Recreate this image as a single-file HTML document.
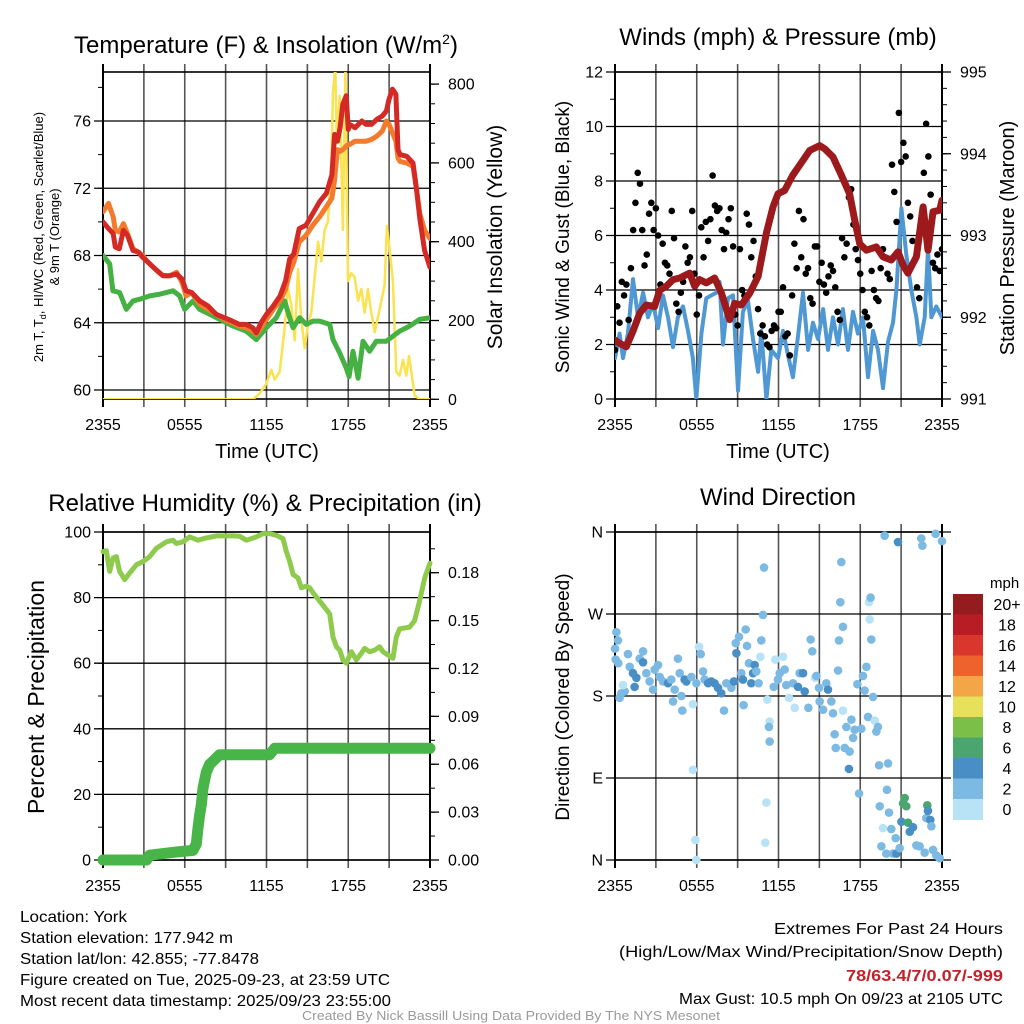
<!DOCTYPE html>
<html><head><meta charset="utf-8"><title>York Mesonet Meteogram</title>
<style>
html,body{margin:0;padding:0;background:#fff;}
svg{display:block;font-family:"Liberation Sans",Arial,sans-serif;}
</style></head>
<body>
<svg id="chart" xmlns="http://www.w3.org/2000/svg" width="1024" height="1024" viewBox="0 0 1024 1024">
<defs>
<clipPath id="c1"><rect x="103" y="72" width="327" height="327"/></clipPath>
<clipPath id="c2"><rect x="615" y="72" width="327" height="327"/></clipPath>
<clipPath id="c3"><rect x="97" y="526" width="339" height="340"/></clipPath>
<clipPath id="c4"><rect x="609" y="526" width="339" height="340"/></clipPath>
</defs>
<text x="266" y="53" font-size="24" text-anchor="middle">Temperature (F) &amp; Insolation (W/m<tspan dy="-9" font-size="14">2</tspan><tspan dy="9">)</tspan></text>
<text x="778" y="45" font-size="24" text-anchor="middle">Winds (mph) &amp; Pressure (mb)</text>
<text x="265" y="511" font-size="24" text-anchor="middle">Relative Humidity (%) &amp; Precipitation (in)</text>
<text x="778" y="505" font-size="24" text-anchor="middle">Wind Direction</text>

<text transform="translate(43,237) rotate(-90)" font-size="13" text-anchor="middle">2m T, T<tspan dy="3" font-size="9">d</tspan><tspan dy="-3">, HI/WC (Red, Green, Scarlet/Blue)</tspan></text>
<text transform="translate(59,237) rotate(-90)" font-size="13" text-anchor="middle">&amp; 9m T (Orange)</text>
<text transform="translate(502,237) rotate(-90)" font-size="21" text-anchor="middle">Solar Insolation (Yellow)</text>
<text x="267" y="458" font-size="20" text-anchor="middle">Time (UTC)</text>

<text transform="translate(569,237) rotate(-90)" font-size="19" text-anchor="middle">Sonic Wind &amp; Gust (Blue, Black)</text>
<text transform="translate(1014,238) rotate(-90)" font-size="20" text-anchor="middle">Station Pressure (Maroon)</text>
<text x="778" y="458" font-size="20" text-anchor="middle">Time (UTC)</text>

<text transform="translate(44,697) rotate(-90)" font-size="23" text-anchor="middle">Percent &amp; Precipitation</text>
<text transform="translate(569,697) rotate(-90)" font-size="19" text-anchor="middle">Direction (Colored By Speed)</text>

<g id="footer" font-size="16">
<text x="20" y="922" textLength="107" lengthAdjust="spacingAndGlyphs">Location: York</text>
<text x="20" y="943" textLength="213" lengthAdjust="spacingAndGlyphs">Station elevation: 177.942 m</text>
<text x="20" y="964" textLength="239" lengthAdjust="spacingAndGlyphs">Station lat/lon: 42.855; -77.8478</text>
<text x="20" y="985" textLength="370" lengthAdjust="spacingAndGlyphs">Figure created on Tue, 2025-09-23, at 23:59 UTC</text>
<text x="20" y="1006" textLength="371" lengthAdjust="spacingAndGlyphs">Most recent data timestamp: 2025/09/23 23:55:00</text>
<text x="774" y="934" textLength="229" lengthAdjust="spacingAndGlyphs">Extremes For Past 24 Hours</text>
<text x="619" y="957" textLength="384" lengthAdjust="spacingAndGlyphs">(High/Low/Max Wind/Precipitation/Snow Depth)</text>
<text x="846" y="981" textLength="157" lengthAdjust="spacingAndGlyphs" fill="#c8202a" font-weight="bold">78/63.4/7/0.07/-999</text>
<text x="679" y="1004" textLength="324" lengthAdjust="spacingAndGlyphs">Max Gust: 10.5 mph On 09/23 at 2105 UTC</text>
<text x="302" y="1020" font-size="13" fill="#9a9a9a" textLength="418" lengthAdjust="spacingAndGlyphs">Created By Nick Bassill Using Data Provided By The NYS Mesonet</text>
</g>
</svg>
<script>
// ---------- Data ----------
const timeTickLabels = ["2355","0555","1155","1755","2355"];
const tempTicks = [60,64,68,72,76];
const solarTicks = [0,200,400,600,800];
const windTicks = [0,2,4,6,8,10,12];
const pressTicks = [991,992,993,994,995];
const rhTicks = [0,20,40,60,80,100];
const precipTicks = [0,0.03,0.06,0.09,0.12,0.15,0.18];
const precipTickLabels = ["0.00","0.03","0.06","0.09","0.12","0.15","0.18"];
const dirTicks = [0,90,180,270,360];
const dirTickLabels = ["N","E","S","W","N"];
const speedBins = [0,2,4,6,8,10,12,14,16,18,20];
const speedBinLabels = ["0","2","4","6","8","10","12","14","16","18","20+"];
const speedColors = ["#b8e2f6","#7cb9e3","#4a8ec6","#4aa56f","#7cbf48","#e6e05a","#f4a547","#ee622d","#d9372b","#b81d25","#951b1e"];

const tempTimes = [0,0.4,0.75,0.9,1.2,1.5,1.8,2.2,2.6,2.9,3.3,3.7,4.1,4.4,4.9,5.4,5.8,6.1,6.5,7.1,7.7,8.3,8.9,9.5,10.0,10.5,11.0,11.25,11.6,12.0,12.5,13.0,13.4,13.7,14.0,14.4,14.9,15.4,15.9,16.4,16.8,17.0,17.2,17.4,17.6,17.85,18.0,18.1,18.5,19.0,19.3,19.7,20.1,20.5,20.8,21.0,21.25,21.5,21.65,21.8,22.3,22.75,23.0,23.25,23.6,24];
const tempRed = [70.0,69.6,69.3,68.5,68.4,69.5,69.2,68.3,68.2,67.9,67.6,67.3,67.0,66.8,66.8,66.9,66.6,65.9,65.8,65.3,65.0,64.5,64.3,64.1,63.9,63.9,63.7,63.4,64.0,64.5,65.0,65.6,66.5,67.8,68.1,69.6,69.8,70.5,71.2,71.7,72.8,75.2,74.8,75.6,77.0,77.5,75.5,75.8,75.6,76.0,75.8,75.8,76.1,76.3,76.6,77.3,77.9,77.6,74.3,74.0,73.9,73.5,72.0,70.2,68.3,67.3];
const tempOrange = [70.6,71.1,70.3,69.5,69.4,69.9,69.3,68.4,68.2,68.0,67.6,67.3,67.0,66.8,66.8,67.0,66.4,65.6,65.8,65.1,64.8,64.5,64.2,64.0,63.8,63.7,63.5,63.3,63.7,64.2,64.8,65.3,66.0,67.0,67.6,68.8,69.2,69.8,70.3,70.9,71.4,72.5,74.3,74.2,74.3,74.5,74.6,74.6,74.8,74.8,74.8,74.9,75.1,75.4,76.0,75.8,75.3,74.8,73.8,73.6,73.5,73.3,72.0,70.5,69.5,69.0];
const dewTimes = [0,0.49,0.73,1.22,1.71,2.2,2.69,3.43,4.16,5.14,5.63,5.99,6.61,7.09,8.32,9.54,10.52,11.25,11.99,12.72,13.33,13.7,13.95,14.43,14.92,15.41,15.9,16.64,16.88,17.37,17.86,18.06,18.35,18.72,19.08,19.57,20.06,20.8,21.28,21.77,22.5,23.24,24];
const dewValues = [68.0,67.5,65.9,65.8,64.8,65.3,65.4,65.6,65.7,65.9,65.6,64.8,65.3,64.8,64.3,63.8,63.5,63.0,63.7,64.3,65.3,64.3,63.7,64.3,63.9,64.1,64.1,63.9,63.0,62.2,61.3,60.8,62.3,60.7,62.9,62.3,62.9,62.9,63.2,63.5,63.8,64.2,64.3];
const solarTimes = [0,11.01,11.5,11.99,12.35,12.6,12.97,13.33,13.58,13.82,14.07,14.31,14.56,14.8,15.05,15.29,15.54,15.78,16.02,16.27,16.51,16.76,16.88,17.05,17.17,17.37,17.49,17.61,17.79,17.98,18.23,18.47,18.72,18.96,19.2,19.45,19.69,19.94,20.18,20.43,20.67,20.84,21.04,21.28,21.53,21.77,22.02,22.26,22.46,22.63,22.87,23.24,24];
const solarValues = [0,0,15,40,75,50,70,180,280,240,150,330,200,130,190,220,310,400,350,430,450,600,780,840,650,770,600,430,840,300,320,310,250,280,220,280,220,170,210,250,290,440,380,300,70,60,100,60,110,70,10,0,0];

const pressTimes = [0,0.34,0.83,1.32,1.81,2.3,2.91,3.28,3.77,4.26,4.75,5.48,5.85,6.21,6.7,7.31,7.8,8.42,8.78,9.27,9.88,10.5,11.11,11.6,11.96,12.45,13.06,13.8,14.29,15.02,15.39,16.0,16.61,17.22,17.59,17.96,18.45,19.18,19.67,20.28,20.77,21.14,21.5,22.12,22.61,22.97,23.34,23.83,24];
const pressValues = [991.72,991.68,991.64,991.83,992.05,992.15,992.13,992.33,992.38,992.46,992.48,992.54,992.38,992.46,992.42,992.48,992.3,991.97,992.17,992.15,992.29,992.5,993.03,993.35,993.51,993.55,993.74,993.92,994.04,994.1,994.06,993.96,993.74,993.51,993.19,992.9,992.82,992.86,992.74,992.7,992.8,992.64,992.54,992.74,993.35,992.82,993.29,993.31,993.43];
const windTimes = [0,0.34,0.59,0.95,1.32,1.69,2.06,2.42,2.79,3.16,3.52,3.89,4.26,4.62,4.99,5.36,5.72,5.97,6.34,6.7,7.07,7.44,7.68,7.93,8.29,8.66,9.03,9.39,9.76,10.13,10.5,10.74,11.11,11.47,11.96,12.33,12.7,13.06,13.43,13.8,14.17,14.53,14.9,15.27,15.63,16.0,16.37,16.73,17.1,17.47,17.83,18.2,18.57,18.94,19.3,19.67,20.04,20.4,20.65,21.02,21.38,21.75,22.12,22.36,22.73,22.97,23.22,23.58,24];
const windValues = [1.5,2.4,1.5,2.4,4.4,3.0,3.9,3.0,3.5,2.6,3.8,3.0,1.9,3.0,3.4,2.5,1.5,0.0,2.4,3.7,3.8,3.9,4.3,2.0,3.7,3.8,0.3,3.2,3.6,2.2,1.0,2.5,0.0,1.8,1.5,2.5,1.6,0.8,2.3,3.9,1.8,2.8,2.2,3.3,1.8,3.0,2.0,3.3,1.8,3.2,2.4,3.0,0.8,2.5,1.8,0.4,2.1,2.8,4.0,7.0,5.3,4.0,3.0,2.0,3.0,5.5,3.0,3.4,3.0];
const gustValues = [1.8,3.4,2.8,4.3,3.8,4.2, 2.9,4.8,6.2,7.2,8.3,7.9, 6.2,4.9,5.3,6.8,7.2,6.2, 7.0,6.0,4.2,5.7,5.0,4.9, 4.6,6.9,5.9,3.5,3.2,3.9, 4.3,5.6,5.0,5.2,6.9,4.6, 3.1,3.8,6.3,5.2,6.5,5.8, 6.6,8.2,7.1,6.9,7.0,6.2, 5.5,6.1,6.6,7.0,5.6,3.1, 2.7,5.5,4.0,3.8,6.8,6.4, 5.2,5.8,4.5,3.3,2.4,2.7, 2.3,2.0,1.9,2.5,2.7,2.6, 3.2,3.2,4.1,2.3,2.4,1.6, 3.8,5.7,4.8,6.9,5.2,6.6, 4.6,4.8,3.7,3.5,5.6,5.6, 4.3,5.0,4.2,3.9,4.5,4.9, 4.7,4.1,3.2,2.9,5.9,5.2, 5.7,7.4,7.7,6.4,5.5,5.1, 4.6,4.0,3.2,3.0,2.7,4.7, 4.0,3.7,3.6,4.8,5.5,5.2, 4.6,4.4,8.6,7.6,6.5,10.5, 8.7,9.4,8.9,7.2,6.7,5.8, 5.1,4.1,3.7,6.4,8.3,10.1, 8.9,7.5,5.0,4.8,5.3,4.7, 5.5];

const rhTimes = [0,0.24,0.49,0.73,0.98,1.22,1.59,1.96,2.45,2.94,3.43,3.91,4.65,5.14,5.38,5.87,6.36,6.97,7.58,8.32,9.54,10.03,10.52,11.25,11.74,12.23,12.72,13.21,13.46,13.7,13.95,14.31,14.56,14.92,15.17,15.41,15.9,16.27,16.64,16.88,17.13,17.37,17.61,17.86,18.23,18.59,18.96,19.2,19.57,19.94,20.31,20.55,20.92,21.28,21.53,21.77,22.5,22.87,23.24,23.61,24];
const rhValues = [94,94.3,88,92,92.5,88,85.5,87.5,90,91,92.5,95,97,97.5,96.5,97,98.5,97.5,98.2,98.8,98.8,98.7,97.5,98.5,99.5,99.5,99,98,94,91,87,86,83,83.5,83,81.5,79,77,75,68,65,64,61,60,63.5,61,63,64.5,63.5,64,65,63.5,62.5,61.5,68,70.5,71,73,79,86,90.5];
const precipTimes = [0,3.2,3.43,5.38,6.6,6.85,6.97,7.09,7.22,7.34,7.58,7.83,8.2,8.56,12.23,12.6,24];
const precipValues = [0,0,0.003,0.005,0.006,0.010,0.02,0.028,0.035,0.045,0.055,0.060,0.063,0.066,0.066,0.070,0.070];

const dirTimes = [0,0.1,0.22,0.24,0.05,0.34,0.46,0.71,0.59,0.95,1.08,1.32,1.44,1.57,1.81,2.06,2.06,2.3,2.54,2.79,2.91,3.16,3.28,3.52,3.89,4.13,4.26,4.38,4.62,4.75,4.87,4.94,5.11,5.24,5.6,5.72,5.72,5.9,5.97,5.97,6.17,6.29,6.46,6.58,6.83,7.07,7.31,7.56,7.8,8.0,8.17,8.54,8.73,8.86,8.91,9.1,9.27,9.39,9.44,9.59,9.69,9.83,10.0,10.13,10.25,10.37,10.54,10.67,10.74,10.86,10.94,11.18,11.35,11.3,11.35,11.11,11.03,11.65,11.77,11.96,12.09,12.33,12.45,12.57,12.77,13.06,13.19,13.43,13.55,13.8,13.92,14.19,14.36,14.48,14.68,14.78,14.97,15.02,15.27,15.51,15.63,15.88,16.0,16.12,16.2,16.37,16.44,16.54,16.61,16.73,16.73,16.86,16.98,17.17,17.22,17.35,17.47,17.59,17.79,17.91,18.08,18.2,18.32,18.45,18.57,18.64,18.69,18.76,18.81,18.94,19.06,19.18,19.3,19.38,19.43,19.67,19.55,19.79,19.91,19.96,20.04,20.11,20.28,20.4,20.6,20.65,20.77,20.89,21.02,21.14,21.26,21.38,21.5,21.63,21.87,22.12,22.36,22.48,22.56,22.73,22.85,22.92,22.97,23.14,23.22,23.34,23.53,23.58,23.83,24.0];
const dirValues = [232,250,241,216,220,178,183,185,192,226,212,205,190,200,221,229,217,205,196,187,209,214,201,196,194,198,174,187,221,205,180,164,198,196,201,171,99,22,0,194,234,226,207,198,194,196,194,189,183,164,194,189,196,238,227,245,205,198,170,253,235,216,194,205,214,207,194,223,241,269,321,176,152,146,130,63,19,190,220,198,205,223,209,192,178,194,167,190,205,205,185,167,242,229,200,202,189,174,165,194,187,174,161,138,123,208,241,283,327,256,164,123,146,100,119,154,134,143,193,73,144,202,186,212,157,283,264,288,242,179,153,141,146,104,59,35,15,356,7,77,106,52,34,7,24,7,349,13,42,62,68,59,41,31,36,16,15,353,345,8,46,60,54,44,37,11,358,5,2,350];
const dirSpeeds = [3,3,3,3,3,3,3,3,1,3,3,5,5,5,3,3,5,3,3,3,3,3,3,3,5,3,3,3,3,3,3,3,5,5,3,1,1,1,1,3,1,3,3,3,5,5,5,5,5,3,3,3,5,3,5,3,3,5,3,3,3,3,5,5,5,3,3,1,3,3,3,1,1,3,3,1,1,3,1,3,3,1,3,3,1,3,1,5,3,5,5,3,3,3,1,3,3,3,3,3,5,3,3,3,3,3,3,3,3,3,1,3,3,5,3,3,3,3,3,3,3,3,3,3,3,1,1,3,3,3,1,3,3,3,3,1,3,3,3,3,3,3,3,3,3,5,5,3,5,7,7,7,7,5,5,3,3,3,3,3,3,7,5,5,3,3,3,3,3,3];

// ---------- helpers ----------
const NS = "http://www.w3.org/2000/svg";
const svg = document.getElementById('chart');
function add(parent, tag, attrs){
  const e = document.createElementNS(NS, tag);
  for (const k in attrs) e.setAttribute(k, attrs[k]);
  parent.appendChild(e);
  return e;
}
function pathFrom(ts, vs, xf, yf){
  let d = "";
  for (let i=0;i<ts.length;i++){ d += (i?"L":"M") + xf(ts[i]).toFixed(1) + "," + yf(vs[i]).toFixed(1); }
  return d;
}
function speedColor(s){
  let idx = 0;
  for (let i=0;i<speedBins.length;i++){ if (s >= speedBins[i]) idx = i; }
  return speedColors[idx];
}

function frame(p, name){
  const g = add(svg, 'g', {});
  
  
  // vertical grid lines every 3h
  for (let h=0; h<=24; h+=3){
    const x = p.x0 + h*(p.x1-p.x0)/24;
    const ln = add(g,'line',{x1:x,x2:x,y1:p.y0-8,y2:p.y1+8,stroke:(h%24===0)?'#000':'#555','stroke-width':(h%24===0)?2:1.6});
    
    
  }
  // time tick labels
  for (let i=0;i<timeTickLabels.length;i++){
    const x = p.x0 + i*6*(p.x1-p.x0)/24;
    const t = add(g,'text',{x:x,y:p.y1+31,'font-size':16,'text-anchor':'middle'});
    t.textContent = timeTickLabels[i];
    
    
  }
  // left axis
  p.left.ticks.forEach((v,i)=>{
    const y = p.left.f(v);
    const ln = add(g,'line',{x1:p.x0-9,x2:p.x1+(p.right?0:9),y1:y,y2:y,stroke:'#000','stroke-width':1.3});
    
    
    const t = add(g,'text',{x:p.x0-12,y:y+5.5,'font-size':16,'text-anchor':'end'});
    t.textContent = p.left.labels ? p.left.labels[i] : String(v);
    
    
  });
  p.left.minor.forEach(v=>{
    const y = p.left.f(v);
    const ln = add(g,'line',{x1:p.x0-5,x2:p.x0,y1:y,y2:y,stroke:'#000','stroke-width':1});
    
    
  });
  if (p.right){
    p.right.ticks.forEach((v,i)=>{
      const y = p.right.f(v);
      const ln = add(g,'line',{x1:p.x1,x2:p.x1+9,y1:y,y2:y,stroke:'#000','stroke-width':1.3});
      
      
      const t = add(g,'text',{x:p.x1+18,y:y+5.5,'font-size':16});
      t.textContent = p.right.labels ? p.right.labels[i] : String(v);
      
      
    });
    p.right.minor.forEach(v=>{
      const y = p.right.f(v);
      const ln = add(g,'line',{x1:p.x1,x2:p.x1+5,y1:y,y2:y,stroke:'#000','stroke-width':1});
      
      
    });
  }
  const box = add(g,'rect',{x:p.x0,y:p.y0,width:p.x1-p.x0,height:p.y1-p.y0,fill:'none',stroke:'#000','stroke-width':1.6});
  
  
  return g;
}
function range(a,b,s){ const r=[]; for(let v=a; v<=b+1e-9; v+=s) r.push(+v.toFixed(4)); return r; }

// ---------- Panel 1: temperature ----------
const p1 = {x0:103,x1:430,y0:72,y1:399};
const xT1 = t => p1.x0 + t*(p1.x1-p1.x0)/24;
const yTemp = v => 390 - (v-60)*16.8125;
const ySolar = v => 399.3 - v*0.394;
p1.left = {ticks:tempTicks, f:yTemp, minor:range(60,78,2)};
p1.right = {ticks:solarTicks, f:ySolar, minor:range(0,800,50)};
frame(p1,'temperature');
const g1 = add(svg,'g',{'clip-path':'url(#c1)',fill:'none','stroke-linejoin':'round','stroke-linecap':'round'});


let s;
s = add(g1,'path',{d:pathFrom(solarTimes,solarValues,xT1,ySolar),stroke:'#fbe24f','stroke-width':2.5});


s = add(g1,'path',{d:pathFrom(dewTimes,dewValues,xT1,yTemp),stroke:'#45b143','stroke-width':5});


s = add(g1,'path',{d:pathFrom(tempTimes,tempOrange,xT1,yTemp),stroke:'#f47a2c','stroke-width':5});


s = add(g1,'path',{d:pathFrom(tempTimes,tempRed,xT1,yTemp),stroke:'#d42a26','stroke-width':5});



// ---------- Panel 2: winds ----------
const p2 = {x0:615,x1:942,y0:72,y1:399};
const xT2 = t => p2.x0 + t*(p2.x1-p2.x0)/24;
const yWind = v => 399 - v*27.25;
const yPress = v => 399 - (v-991)*81.75;
p2.left = {ticks:windTicks, f:yWind, minor:range(0,12,1)};
p2.right = {ticks:pressTicks, f:yPress, minor:range(991,995,0.2)};
frame(p2,'winds');
const g2 = add(svg,'g',{'clip-path':'url(#c2)',fill:'none','stroke-linejoin':'round','stroke-linecap':'round'});


s = add(g2,'path',{d:pathFrom(windTimes,windValues,xT2,yWind),stroke:'#4f98d3','stroke-width':4});


gustValues.forEach((v,i)=>{
  const c = add(g2,'circle',{cx:xT2(i/6),cy:yWind(v),r:3.3,fill:'#000'});
  
  
});
s = add(g2,'path',{d:pathFrom(pressTimes,pressValues,xT2,yPress),stroke:'#9c1a1c','stroke-width':7});



// ---------- Panel 3: humidity ----------
const p3 = {x0:103,x1:430,y0:532,y1:860};
const xT3 = t => p3.x0 + t*(p3.x1-p3.x0)/24;
const yRH = v => 860 - v*3.28;
const yPrecip = v => 860 - v*1596;
p3.left = {ticks:rhTicks, f:yRH, minor:range(0,100,10)};
p3.right = {ticks:precipTicks, labels:precipTickLabels, f:yPrecip, minor:range(0,0.2,0.015)};
frame(p3,'humidity');
const g3 = add(svg,'g',{'clip-path':'url(#c3)',fill:'none','stroke-linejoin':'round','stroke-linecap':'round'});


s = add(g3,'path',{d:pathFrom(rhTimes,rhValues,xT3,yRH),stroke:'#8ecb4c','stroke-width':5});


s = add(g3,'path',{d:pathFrom(precipTimes,precipValues,xT3,yPrecip),stroke:'#48b548','stroke-width':11});



// ---------- Panel 4: wind direction ----------
const p4 = {x0:615,x1:942,y0:532,y1:860};
const xT4 = t => p4.x0 + t*(p4.x1-p4.x0)/24;
const yDir = v => 860 - v*0.9111;
p4.left = {ticks:dirTicks, labels:dirTickLabels, f:yDir, minor:[]};
p4.right = null;
frame(p4,'wind-direction');
const g4 = add(svg,'g',{'clip-path':'url(#c4)'});


dirValues.forEach((v,i)=>{
  const c = add(g4,'circle',{cx:xT4(dirTimes[i]),cy:yDir(v),r:4.3,fill:speedColor(dirSpeeds[i])});
  
  
});

// colorbar
const cb = add(svg,'g',{});


const cbTop = 594, cbH = 20.5;
const unit = add(cb,'text',{x:990,y:588,'font-size':15});
unit.textContent = 'mph';


for (let i=0;i<speedColors.length;i++){
  const k = speedColors.length-1-i;
  const r = add(cb,'rect',{x:953,y:cbTop+i*cbH,width:30,height:cbH+0.5,fill:speedColors[k]});
  
  
  const t = add(cb,'text',{x:1007,y:cbTop+i*cbH+16,'font-size':16,'text-anchor':'middle'});
  t.textContent = speedBinLabels[k];
  
  
}
</script>
</body></html>
